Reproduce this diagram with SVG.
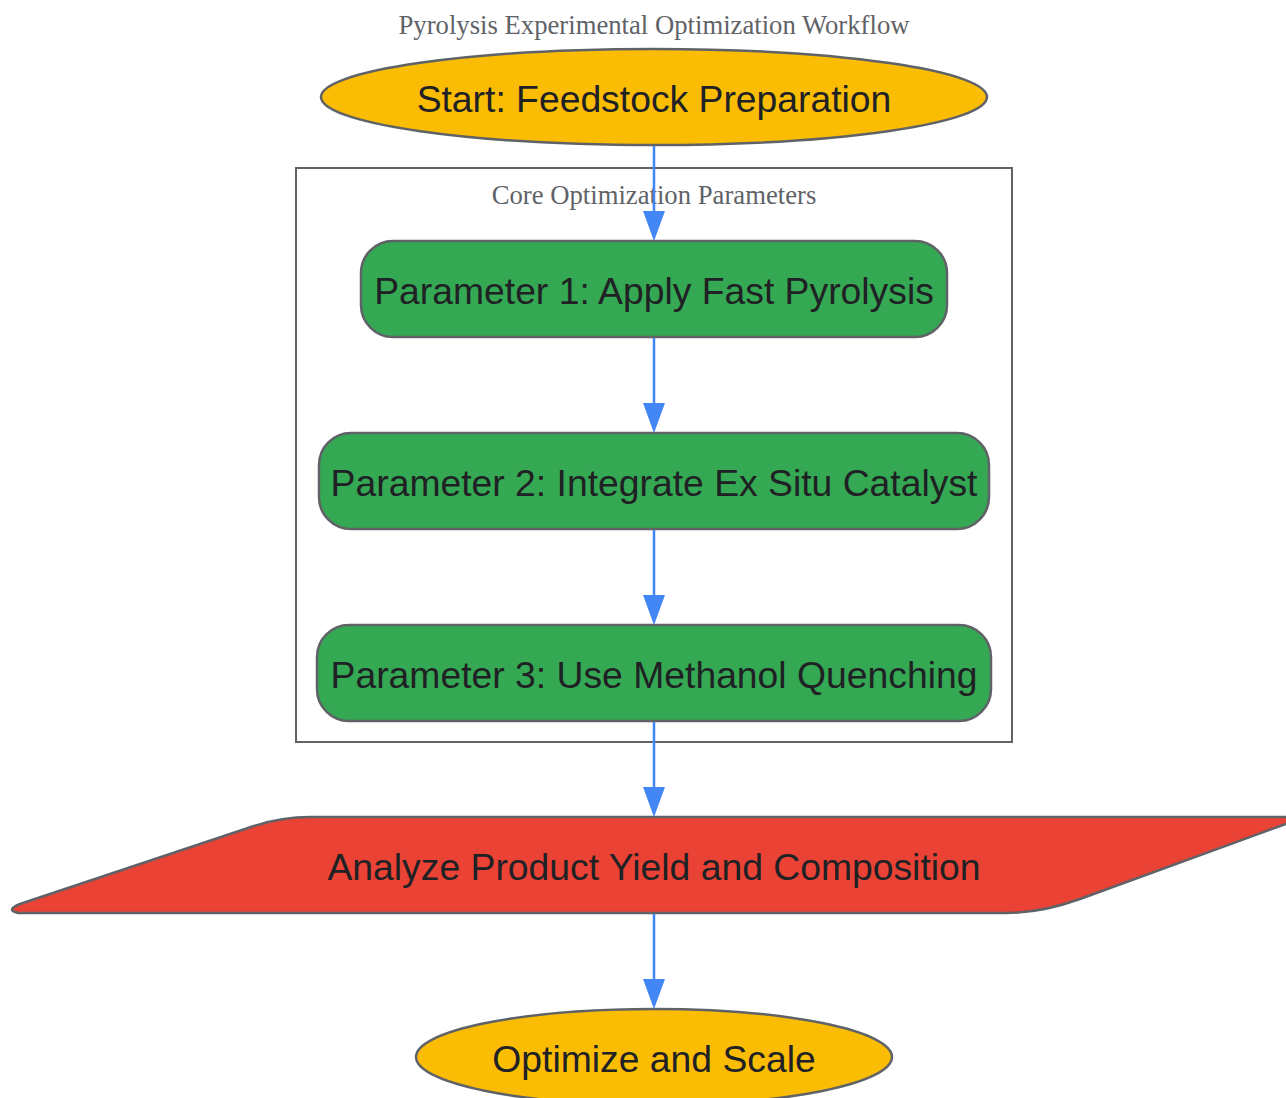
<svg xmlns="http://www.w3.org/2000/svg" width="1286" height="1098" viewBox="0 0 1286 1098">
<defs>
<style>
.lbl{font-family:"Liberation Sans",Arial,sans-serif;font-size:37.3px;fill:#202124;text-anchor:middle;dominant-baseline:central}
.ttl{font-family:"Liberation Serif","Times New Roman",serif;font-size:26.7px;fill:#5f6368;text-anchor:middle;dominant-baseline:central}
.node{stroke:#5f6368;stroke-width:2.5}
.start{fill:#FBBC04}
.step{fill:#34A853}
.io{fill:#EA4335}
.edge{stroke:#4285F4;stroke-width:2.5;fill:none}
.head{fill:#4285F4}
</style>
</defs>
<rect width="1286" height="1098" fill="#ffffff"/>
<text class="ttl" x="654" y="25">Pyrolysis Experimental Optimization Workflow</text>
<g id="cluster">
<rect x="296" y="168" width="716" height="574" fill="none" stroke="#5f6368" stroke-width="2"/>
<text class="ttl" x="654" y="195">Core Optimization Parameters</text>
</g>
<g id="start">
<ellipse class="node start" cx="654" cy="97" rx="333" ry="48"/>
<text class="lbl" x="654" y="99">Start: Feedstock Preparation</text>
</g>
<g id="p1">
<rect class="node step" x="361" y="241" width="586" height="96" rx="32"/>
<text class="lbl" x="654" y="291">Parameter 1: Apply Fast Pyrolysis</text>
</g>
<g id="p2">
<rect class="node step" x="319" y="433" width="670" height="96" rx="32"/>
<text class="lbl" x="654" y="483">Parameter 2: Integrate Ex Situ Catalyst</text>
</g>
<g id="p3">
<rect class="node step" x="317" y="625" width="674" height="96" rx="32"/>
<text class="lbl" x="654" y="675">Parameter 3: Use Methanol Quenching</text>
</g>
<g id="analyze">
<path class="node io" d="M245,829 Q278,817 310,817 L1305,817 L1080,899 Q1041,913 1005,913 L18,913 Q5,910 20,904 Z"/>
<text class="lbl" x="654" y="867">Analyze Product Yield and Composition</text>
</g>
<g id="end">
<ellipse class="node start" cx="654" cy="1057" rx="238" ry="48"/>
<text class="lbl" x="654" y="1059">Optimize and Scale</text>
</g>
<g id="edges">
<line class="edge" x1="654" y1="146" x2="654" y2="212"/>
<path class="head" d="M643,211 L665,211 L654,241 Z"/>
<line class="edge" x1="654" y1="338" x2="654" y2="404"/>
<path class="head" d="M643,403 L665,403 L654,433 Z"/>
<line class="edge" x1="654" y1="530" x2="654" y2="596"/>
<path class="head" d="M643,595 L665,595 L654,625 Z"/>
<line class="edge" x1="654" y1="722" x2="654" y2="788"/>
<path class="head" d="M643,787 L665,787 L654,817 Z"/>
<line class="edge" x1="654" y1="914" x2="654" y2="980"/>
<path class="head" d="M643,979 L665,979 L654,1009 Z"/>
</g>
</svg>
